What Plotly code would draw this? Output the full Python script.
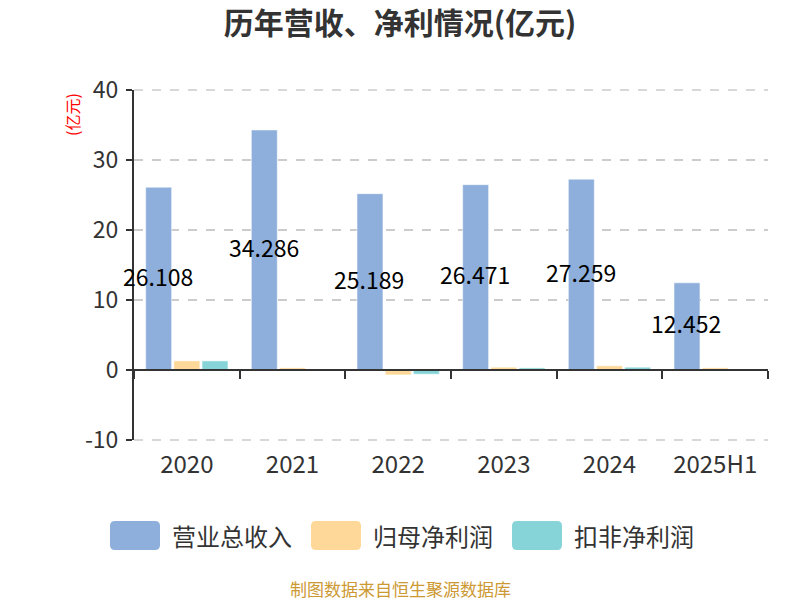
import plotly.graph_objects as go

years = ["2020", "2021", "2022", "2023", "2024", "2025H1"]
revenue = [26.108, 34.286, 25.189, 26.471, 27.259, 12.452]
net_profit = [1.3, 0.3, -0.7, 0.4, 0.6, 0.3]
deducted_profit = [1.3, 0.1, -0.6, 0.3, 0.4, 0.1]
y_ticks = [-10, 0, 10, 20, 30, 40]
y_tick_labels = ["-10", "0", "10", "20", "30", "40"]

series_names = ["营业总收入", "归母净利润", "扣非净利润"]
colors = ["#8eaedb", "#fed898", "#87d4d8"]

FONT = "Noto Sans CJK SC"
L, R, T, B = 134, 32, 90, 160
W, H = 800, 600
PW, PH = W - L - R, H - T - B
Y_MIN, Y_MAX = -10, 40


def px(x):
    return (x - L) / PW


def py(y):
    return (H - B - y) / PH


fig = go.Figure()
fig.add_trace(go.Bar(
    name=series_names[0], x=years, y=revenue,
    marker=dict(color=colors[0], line=dict(color="rgba(255,255,255,0.5)", width=1)),
    showlegend=False,
))
fig.add_trace(go.Bar(
    name=series_names[1], x=years, y=net_profit,
    marker=dict(color=colors[1], line=dict(color="rgba(255,255,255,0.5)", width=1)),
    showlegend=False,
))
fig.add_trace(go.Bar(
    name=series_names[2], x=years, y=deducted_profit,
    marker=dict(color=colors[2], line=dict(color="rgba(255,255,255,0.5)", width=1)),
    showlegend=False,
))
# helper trace for the zero-line category axis
fig.add_trace(go.Scatter(x=years, y=[None] * len(years), xaxis="x2",
                         showlegend=False, hoverinfo="skip"))

annotations = []
# value labels at the middle of the revenue bars (x = category index)
for i, v in enumerate(revenue):
    annotations.append(dict(text=f"{v:.3f}", x=i, y=v / 2, xref="x", yref="y",
                            xshift=-29, yshift=3, showarrow=False,
                            xanchor="center", yanchor="middle",
                            font=dict(size=23, color="#000000", family=FONT)))

shapes = []
# gridlines at the range edges (plotly omits them at the border)
for yy in (0, 1):
    shapes.append(dict(type="line", xref="paper", yref="paper", x0=0, x1=1, y0=yy, y1=yy,
                       line=dict(color="#cccccc", width=1.5, dash="dash"), layer="below"))

# custom legend
legend_x = [110, 311, 512]
rw, rh, rr = 50, 29, 5
for i, name in enumerate(series_names):
    x0, y0 = legend_x[i], 521
    x1, y1 = x0 + rw, y0 + rh
    rx, ry = rr / PW, rr / PH
    X0, X1, Y0, Y1 = px(x0), px(x1), py(y1), py(y0)
    path = (f"M{X0+rx},{Y0} L{X1-rx},{Y0} Q{X1},{Y0} {X1},{Y0+ry} "
            f"L{X1},{Y1-ry} Q{X1},{Y1} {X1-rx},{Y1} L{X0+rx},{Y1} "
            f"Q{X0},{Y1} {X0},{Y1-ry} L{X0},{Y0+ry} Q{X0},{Y0} {X0+rx},{Y0} Z")
    shapes.append(dict(type="path", path=path, xref="paper", yref="paper",
                       fillcolor=colors[i], line=dict(width=0), layer="above"))
    annotations.append(dict(text=name, x=px(x1 + 10), y=py(535.5), xref="paper", yref="paper",
                            xanchor="left", yanchor="middle", showarrow=False,
                            font=dict(size=24, color="#333333", family=FONT)))

annotations.append(dict(text="(亿元)", x=px(72), y=py(115), xref="paper", yref="paper",
                        textangle=-90, showarrow=False, xanchor="center", yanchor="middle",
                        font=dict(size=16, color="#ff0000", family=FONT)))
annotations.append(dict(text="制图数据来自恒生聚源数据库", x=px(400), y=py(588),
                        xref="paper", yref="paper", showarrow=False,
                        xanchor="center", yanchor="middle",
                        font=dict(size=17, color="#cc9933", family=FONT)))

fig.update_layout(
    width=W, height=H,
    margin=dict(l=L, r=R, t=T, b=B),
    paper_bgcolor="white", plot_bgcolor="white",
    font=dict(family=FONT, color="#333333"),
    title=dict(text="<b>历年营收、净利情况(亿元)</b>", x=0.5, xref="container",
               y=1 - 23 / H, yref="container", yanchor="middle", xanchor="center",
               font=dict(size=30, color="#333333", family=FONT)),
    barmode="group", bargap=0.2, bargroupgap=0.08,
    xaxis=dict(type="category", categoryorder="array", categoryarray=years,
               range=[-0.5, len(years) - 0.5],
               showline=False, ticks="", showgrid=False,
               ticklabelstandoff=8,
               tickfont=dict(size=24, color="#333333", family=FONT)),
    xaxis2=dict(type="category", overlaying="x", matches="x", anchor="free",
                position=(0 - Y_MIN) / (Y_MAX - Y_MIN),
                showline=True, linecolor="#333333", linewidth=2,
                ticks="outside", ticklen=8, tickwidth=2, tickcolor="#333333",
                tickson="boundaries", showticklabels=False, showgrid=False),
    yaxis=dict(range=[Y_MIN, Y_MAX], tickmode="array", tickvals=y_ticks,
               ticktext=y_tick_labels, showline=True,
               linecolor="#333333", linewidth=2,
               ticks="outside", ticklen=6, tickwidth=2, tickcolor="#333333",
               ticklabelstandoff=3,
               gridcolor="#cccccc", griddash="dash", gridwidth=1.5, zeroline=False,
               tickfont=dict(size=23, color="#333333", family=FONT)),
    shapes=shapes, annotations=annotations,
)

fig.write_html("out.html", config={"displayModeBar": False},
               post_script="document.body.style.margin='0';")
